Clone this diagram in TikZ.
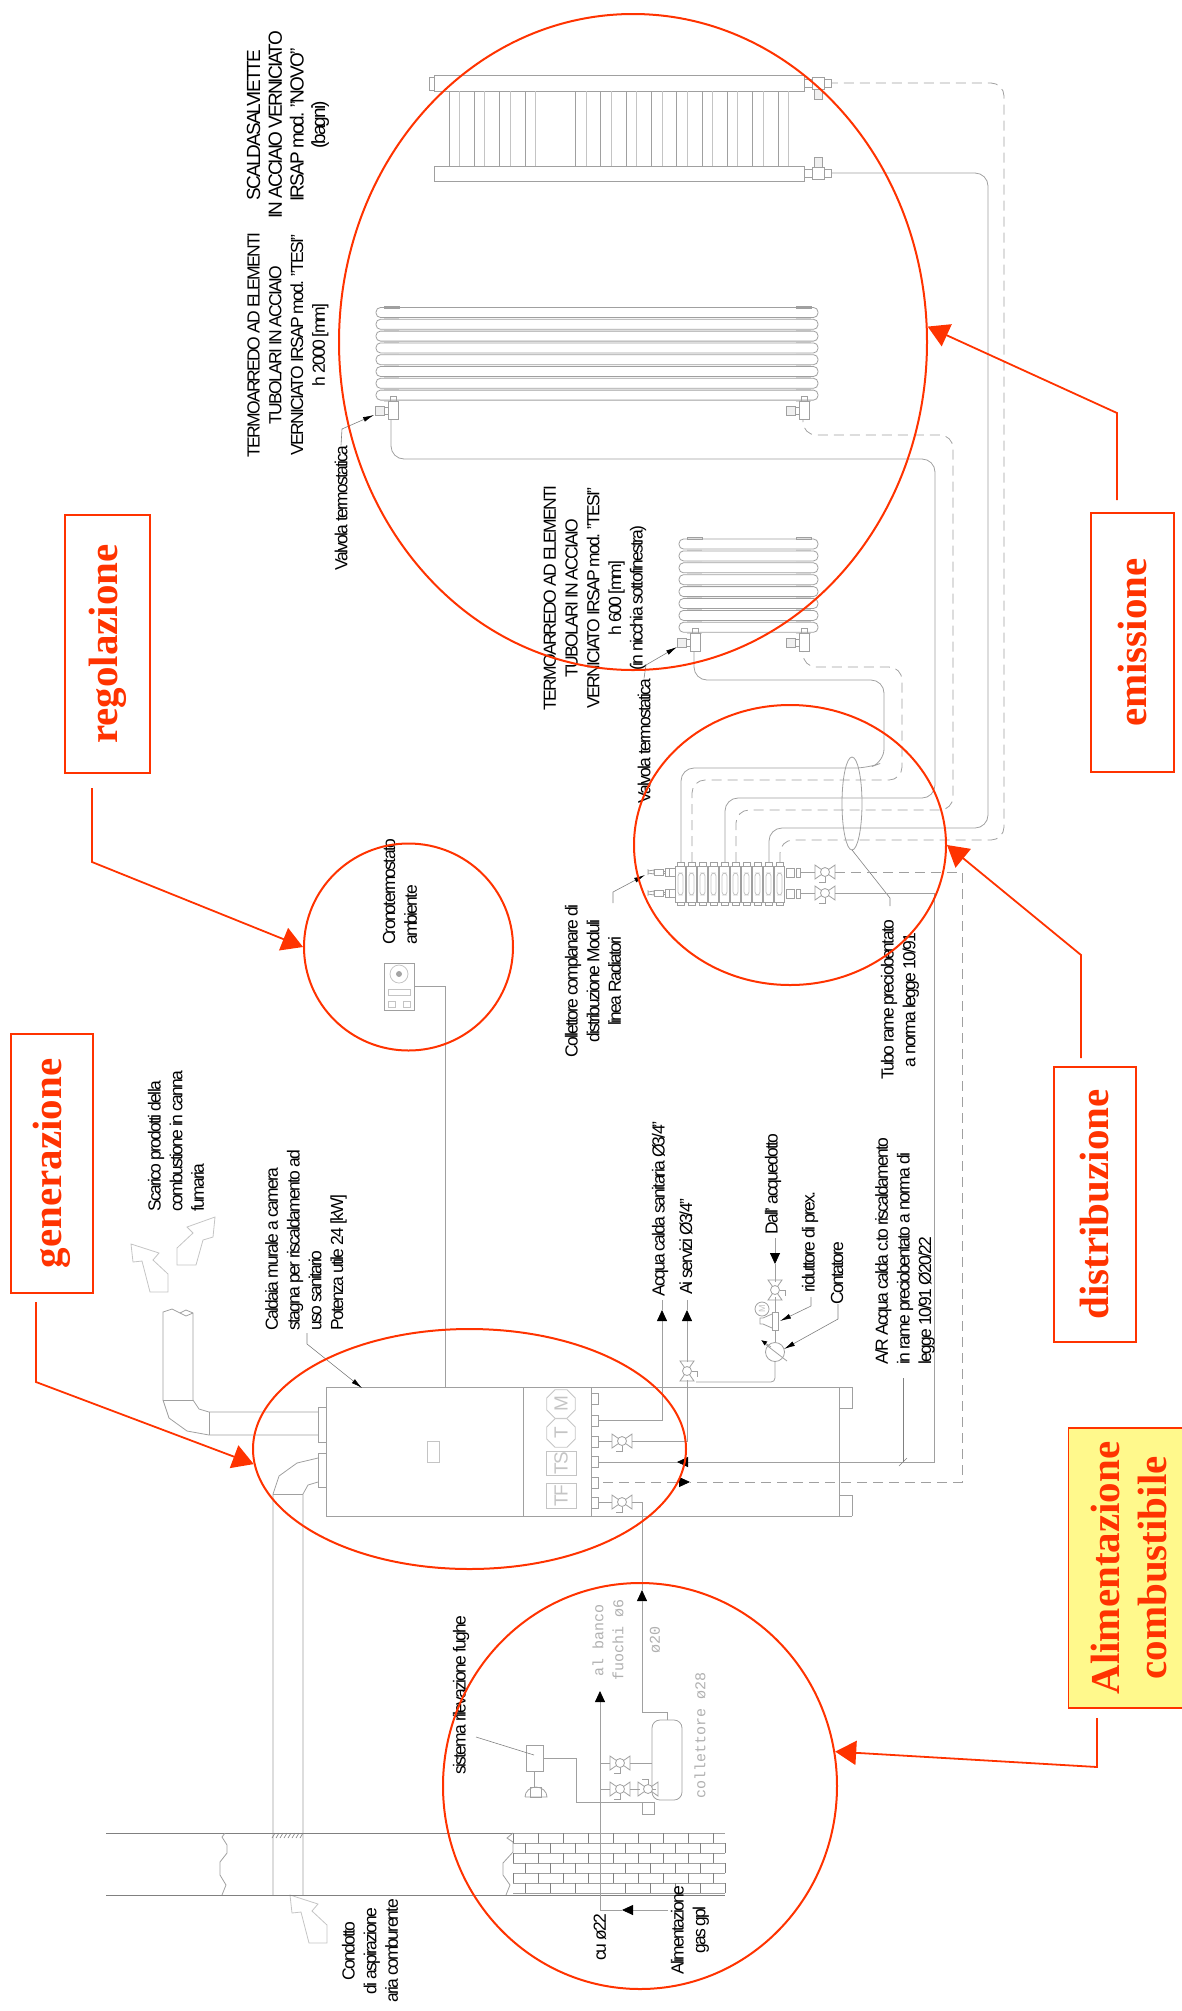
\documentclass[tikz,border=0pt]{standalone}
\usepackage{fontspec}
\setmainfont[LetterSpace=-10]{Liberation Sans}
\newfontfamily\titolofont{Liberation Serif}
\newfontfamily\grigiofont{Liberation Mono}
\usetikzlibrary{arrows.meta,shapes.geometric}
\definecolor{rosso}{HTML}{FF3300}
\definecolor{tubocol}{HTML}{A0A0A0}
\definecolor{chiaro}{HTML}{C4C4C4}
\tikzset{
  tubo/.style={draw=tubocol, line width=.8pt},
  tratto/.style={tubo, dash pattern=on 10pt off 6pt},
  chiaro/.style={draw=chiaro, line width=.8pt},
  guida/.style={draw=gray, line width=.6pt},
  punta/.style={-{Triangle[length=11pt,width=10pt,black]}},
  puntina/.style={-{Latex[length=11pt,width=5pt,black]}},
  etichetta/.style={rotate=90, font=\fontsize{17.5}{21.7}\selectfont, inner sep=0pt, align=center, text=black},
  etichettasx/.style={etichetta, align=left},
  grigia/.style={rotate=90, font=\grigiofont\fontsize{15}{20}\selectfont, inner sep=0pt, align=center, text=chiaro!90!black},
  simbolo/.style={rotate=90, font=\fontsize{19}{19}\selectfont, text=chiaro, chiaro, inner sep=0pt},
  riquadro/.style={rotate=90, draw=rosso, line width=1.8pt, inner sep=0pt, align=center, text=rosso,
    font=\titolofont\bfseries\fontsize{41}{47}\selectfont},
  cerchio/.style={ellipse, draw=rosso, line width=2pt, inner sep=0pt},
  frecciarossa/.style={draw=rosso, line width=1.8pt, -{Triangle[length=21pt,width=24pt,rosso]}},
  pics/farfalla/.style={code={
    \draw[tubo] (-10,-7) -- (-10,7) -- (10,-7) -- (10,7) -- cycle;
    \draw[tubo, fill=white] (0,0) circle (4.5);
    \draw[tubo] (0,4.5) -- (0,10) -- (-6,10);
  }},
  pics/valvolarad/.style={code={
    \draw[tubo, fill=chiaro!25] (-17,5) rectangle (-8,14);
    \draw[tubo] (-8,6) -- (-4,6) (-8,13) -- (-4,13);
    \draw[tubo] (-4,0) rectangle (6,18);
    \draw[tubo] (-2,-5) rectangle (4,0);
  }},
  pics/detentore/.style={code={
    \draw[tubo] (0,-4) rectangle (8,4);
    \draw[tubo] (8,-6) rectangle (20,6);
    \draw[tubo] (20,-4) rectangle (27,4);
    \draw[tubo, fill=chiaro!25] (10,6) rectangle (18,16);
  }},
  pics/attacco/.style={code={
    \draw[tubo] (0,-3) -- (0,3) (0,-1) -- (6,-2) -- (6,2) -- (0,1);
    \draw[tubo] (6,-3) rectangle (15,3);
    \draw[tubo] (15,-1) rectangle (17,1);
    \draw[tubo] (17,-4) rectangle (21,4);
    \draw[tubo] (21,-4) rectangle (27,4);
  }},
}
\begin{document}
\begin{tikzpicture}[x=1pt, y=-1pt]
\useasboundingbox (0,0) rectangle (1182,2011);
% scaldasalviette
\draw[tubo] (434,75) rectangle (804,91);
\draw[tubo] (434,166) rectangle (804,181);
\draw[tubo] (429,77) rectangle (434,90);
\foreach \i in {0,1,2,3,5,6,7,8,9,10,11,12,13} {
  \draw[tubo] ({449+25.3*\i},91) -- ({449+25.3*\i},166);
  \draw[chiaro] ({459.5+25.3*\i},91) -- ({459.5+25.3*\i},166);
}
\pic at (804,83) {detentore};
\pic[yscale=-1] at (804,173) {detentore};
% termoarredo h 2000
\foreach \i in {0,...,7} {
  \draw[tubo, rounded corners=4.5pt] (376,{307.5+11.8*\i}) rectangle (818,{317.5+11.8*\i});
  \fill[chiaro!70] (384,{317.9+11.8*\i}) rectangle (399,{318.9+11.8*\i});
  \fill[chiaro!70] (796,{317.9+11.8*\i}) rectangle (811,{318.9+11.8*\i});
}
\draw[tubo] (384,306) rectangle (399,308) (796,306) rectangle (811,308);
\pic at (392,401) {valvolarad};
\pic at (803,401) {valvolarad};
% termoarredo h 600
\foreach \i in {0,...,7} {
  \draw[tubo, rounded corners=4.5pt] (679,{539+11.9*\i}) rectangle (818,{549+11.9*\i});
  \fill[chiaro!70] (687,{549.4+11.9*\i}) rectangle (702,{550.5+11.9*\i});
  \fill[chiaro!70] (796,{549.4+11.9*\i}) rectangle (811,{550.5+11.9*\i});
}
\draw[tubo] (687,537) rectangle (702,539) (796,537) rectangle (811,539);
\pic at (694,633) {valvolarad};
\pic at (803,633) {valvolarad};
% tubi dal collettore
\draw[tubo, rounded corners=13pt] (681,862) -- (681,768) -- (868,768) -- (884,762) -- (884,680) -- (694,680) -- (694,651);
\draw[tratto, rounded corners=13pt] (692,862) -- (692,780) -- (902,780) -- (902,667) -- (803,667) -- (803,652);
\draw[tubo, rounded corners=13pt] (725,862) -- (725,798) -- (935,798) -- (935,459) -- (391,459) -- (391,419);
\draw[tratto, rounded corners=13pt] (736,862) -- (736,810) -- (953,810) -- (953,435) -- (803,435) -- (803,419);
\draw[tubo, rounded corners=13pt] (769,862) -- (769,828) -- (988,828) -- (988,173) -- (831,173);
\draw[tratto, rounded corners=13pt] (780,862) -- (780,840) -- (1004,840) -- (1004,83) -- (831,83);
% collettore
\foreach \i in {0,...,9} {
  \draw[tubo] ({675.5+11*\i},866) rectangle ({685.5+11*\i},902);
  \draw[tubo] ({677+11*\i},862) rectangle ({684+11*\i},866);
  \draw[tubo] ({677+11*\i},902) rectangle ({684+11*\i},905);
  \draw[chiaro, rounded corners=3pt] ({678+11*\i},873) rectangle ({683+11*\i},895);
}
\pic at (648,872) {attacco};
\pic at (648,893) {attacco};
\draw[tubo] (786,868) rectangle (794,877) (796,868) rectangle (800,877);
\draw[tubo] (786,889) rectangle (794,898) (796,889) rectangle (800,898);
\draw[tubo] (800,872) -- (815,872) (800,893) -- (815,893);
\pic at (825,872) {farfalla};
\pic at (825,893) {farfalla};
\draw[tubo] (852,803.5) ellipse (10 and 46.5);
\draw[guida] (852,850) -- (890,898) -- (890,906);
% linee andata e ritorno
\draw[tratto] (835,872) -- (962,872) -- (962,1482) -- (690,1482);
\draw[tratto] (677,1482) -- (598,1482);
\draw[tubo] (835,893) -- (934,893) -- (934,1462) -- (598,1462);
\draw[tubo, punta] (688,1462) -- (677,1462);
\draw[tubo, punta] (678,1482) -- (690,1482);
\draw[guida] (903,1378) -- (903,1462);
\draw[guida] (899,1466) -- (907,1458);
% caldaia
\draw[tubo] (326,1387) rectangle (591,1516);
\draw[tubo] (523,1387) -- (523,1516);
\draw[chiaro] (427,1441) rectangle (439,1462);
\node[simbolo, draw, regular polygon, regular polygon sides=8, minimum size=31pt] (simboloM) at (561,1404) {M};
\node[simbolo, draw, regular polygon, regular polygon sides=8, minimum size=31pt] (simboloT) at (561,1433) {T};
\node[simbolo, draw, minimum width=24pt, minimum height=30pt] (simboloTS) at (561,1463) {TS};
\node[simbolo, draw, minimum width=25pt, minimum height=30pt] (simboloTF) at (561,1495.5) {TF};
\draw[tubo] (591,1387) -- (852,1387) (591,1516) -- (852,1516);
\draw[tubo] (839,1387) -- (839,1516);
\draw[tubo] (852,1387) -- (852,1408) -- (839,1408);
\draw[tubo] (852,1516) -- (852,1495) -- (839,1495);
\foreach \y in {1393,1415,1436,1456,1477,1497} {
  \draw[tubo] (591,\y) rectangle (598.5,{\y+11.5});
}
% scarico fumi
\draw[tubo] (163,1400) -- (163,1312) -- (172,1309) -- (180,1313) -- (186,1310) -- (193,1313) -- (193,1400);
\draw[tubo] (180,1313) -- (186,1316) -- (193,1313);
\draw[tubo] (163,1400) -- (193,1400);
\draw[tubo] (163,1400) -- (169,1418) -- (187,1431) -- (209,1435) -- (318,1435);
\draw[tubo] (193,1400) -- (199,1409) -- (209,1412) -- (318,1412);
\draw[tubo] (209,1412) -- (209,1435);
\draw[tubo] (318,1407) rectangle (326,1442);
\draw[tubo] (318,1453) rectangle (326,1487);
\draw[tubo] (318,1458) -- (297,1463) -- (279,1476) -- (273,1494) -- (273,1895);
\draw[tubo] (318,1482) -- (308,1485) -- (303,1494) -- (303,1895);
\draw[tubo] (273,1494) -- (303,1494);
\draw[chiaro] (131,1244) -- (159,1253) -- (153,1260) -- (168,1274) -- (168,1292) -- (150,1292) -- (142,1261) -- (133,1262) -- cycle;
\draw[chiaro] (215,1217) -- (187,1227) -- (193,1233) -- (177,1248) -- (177,1265) -- (196,1265) -- (203,1240) -- (213,1237) -- cycle;
\draw[chiaro, shift={(159,651)}] (131,1244) -- (159,1253) -- (153,1260) -- (168,1274) -- (168,1292) -- (150,1292) -- (142,1261) -- (133,1262) -- cycle;
% muro
\draw[guida] (106,1833) -- (725,1833) (106,1895) -- (725,1895);
\draw[tubo] (225,1833) -- (222,1837) -- (227,1845) -- (227,1853) -- (220,1862) -- (220,1875) -- (226,1885) -- (222,1895);
\draw[tubo] (513,1833) -- (507,1838) -- (513,1842) -- (513,1852) -- (503,1863) -- (503,1875) -- (510,1885) -- (506,1895);
\foreach \i in {0,...,6} {
  \draw[tubo] (513,{1833+10*\i}) -- (725,{1833+10*\i});
}
\foreach \x in {0,...,8} {
  \foreach \r in {0,2,4} {
    \draw[guida] ({513+25*\x},{1833+10*\r}) -- ({513+25*\x},{1843+10*\r});
    \draw[guida] ({525.5+25*\x},{1843+10*\r}) -- ({525.5+25*\x},{1853+10*\r});
  }
}
\foreach \x in {275,279,...,303} {
  \draw[guida] (\x,1833) -- ({\x-3},1838);
}
\draw[line width=1pt, gray] (227,1833) -- (273,1833);
% acqua sanitaria
\draw[tubo] (598,1420) -- (662,1420) -- (662,1321);
\draw[tubo, punta] (662,1321) -- (662,1310);
\draw[tubo] (662,1310) -- (662,1300);
\draw[tubo] (598,1441) -- (612,1441);
\draw[tubo] (632,1441) -- (687,1441) -- (687,1380);
\pic at (622,1441) {farfalla};
\pic[rotate=90] at (687,1371) {farfalla};
\draw[tubo] (687,1362) -- (687,1321);
\draw[tubo, punta] (687,1321) -- (687,1310);
\draw[tubo] (687,1310) -- (687,1300);
\draw[tubo, rounded corners=4pt] (696,1382) -- (775,1382) -- (775,1361);
\draw[tubo] (598,1502) -- (612,1502);
\pic at (622,1502) {farfalla};
% contatore e riduttore
\draw[tubo] (775,1352) circle (9.5);
\draw[tubo] (765,1344) -- (787,1361);
\draw[tubo, -{Latex[length=6pt,width=5pt,black]}] (771,1347) -- (761,1340);
\draw[tubo] (775,1342) -- (775,1330);
\draw[tubo] (772,1312) rectangle (778,1330);
\draw[tubo] (772,1314) -- (763,1318) -- (760,1318) -- (760,1324) -- (763,1324) -- (772,1328);
\draw[tubo] (762,1309) circle (7);
\node[font=\fontsize{9}{9}\selectfont, rotate=90, text=chiaro, inner sep=0pt] (simbolomano) at (762,1309) {M};
\draw[tubo] (775,1312) -- (775,1297);
\pic[rotate=90] at (775,1290) {farfalla};
\draw[tubo] (775,1282) -- (775,1264);
\draw[tubo, punta] (775,1253) -- (775,1264);
\draw[tubo] (775,1253) -- (775,1238);
% cronotermostato
\draw[tubo] (384,963) rectangle (414,1010);
\draw[chiaro] (399,974) circle (9);
\draw[tubo, fill=gray!70] (399,974) circle (2.5);
\draw[chiaro] (388,989) rectangle (410,995);
\draw[chiaro] (388,1001) rectangle (395,1007);
\draw[chiaro] (403,1001) rectangle (410,1007);
\draw[tubo] (414,986) -- (445,986) -- (445,1387);
% alimentazione gas
\draw[tubo] (526,1745) rectangle (543,1771);
\draw[guida] (476,1737) -- (534,1755);
\draw[tubo] (534,1771) -- (534,1787);
\draw[tubo] (530,1787) rectangle (541,1797);
\draw[tubo] (525,1797) -- (547,1797) arc (0:180:11 and -10);
\draw[tubo] (543,1758) -- (576,1758) -- (576,1802) -- (642,1802);
\draw[tubo] (642,1802) rectangle (654,1814);
\draw[tubo, rounded corners=8pt] (652,1720) rectangle (682,1800);
\draw[tubo] (632,1502) -- (642,1502) -- (642,1580);
\draw[tubo, punta] (642,1601) -- (642,1590);
\draw[tubo] (642,1590) -- (642,1580);
\draw[tubo] (642,1601) -- (642,1712) -- (667,1712) -- (667,1720);
\draw[tubo] (668,1910) -- (632,1910);
\draw[tubo, punta] (632,1910) -- (622,1910);
\draw[tubo] (622,1910) -- (600,1910) -- (600,1702);
\draw[tubo, punta] (600,1702) -- (600,1691);
\draw[tubo] (600,1763) -- (610,1763) (630,1763) -- (652,1763);
\draw[tubo] (600,1789) -- (610,1789) (630,1789) -- (640,1789) (656,1789) -- (652,1789);
\pic at (620,1763) {farfalla};
\pic at (620,1789) {farfalla};
\pic[yscale=-1] at (648,1789) {farfalla};
% testi
\node[etichetta, font=\fontsize{19}{21.7}\selectfont] (scaldasalviette) at (288,125) {SCALDASALVIETTE\\IN ACCIAIO VERNICIATO\\IRSAP mod. "NOVO"\\(bagni)};
\node[etichetta] (tesi2000) at (288,345) {TERMOARREDO AD ELEMENTI\\TUBOLARI IN ACCIAIO\\VERNICIATO IRSAP mod. "TESI"\\h 2000 [mm]};
\node[etichetta] (valvola1) at (341,508) {Valvola termostatica};
\draw[guida, puntina] (valvola1.east) -- (342,429) -- (374,415);
\node[etichetta] (tesi600) at (595,598) {TERMOARREDO AD ELEMENTI\\TUBOLARI IN ACCIAIO\\VERNICIATO IRSAP mod. "TESI"\\h 600 [mm]\\(in nicchia sottofinestra)};
\node[etichetta] (valvola2) at (644,741) {Valvola termostatica};
\draw[guida, puntina] (valvola2.east) -- (646,665) -- (677,647);
\node[etichettasx] (crono) at (400,892) {Cronotermostato\\ambiente};
\node[etichetta] (collettore) at (593,981) {Collettore complanare di\\distribuzione Moduli\\linea Radiatori};
\draw[guida, puntina] (613,903) -- (613,892) -- (645,875);
\node[etichetta] (tuborame) at (900,1000) {Tubo rame preciobentato\\a norma legge 10/91};
\node[etichettasx] (scarico) at (176,1141) {Scarico prodotti della\\combustione in canna\\fumaria};
\node[etichettasx] (caldaia) at (306,1240) {Caldaia murale a camera\\stagna per riscaldamento ad\\uso sanitario\\Potenza utile 24 [kW]};
\draw[guida, puntina] (307,1333) -- (307,1344) -- (362,1388);
\node[etichetta] (sanitaria) at (660,1209) {Acqua calda sanitaria Ø3/4"};
\node[etichetta] (servizi) at (686,1247) {Ai servizi Ø3/4"};
\node[etichetta] (acquedotto) at (773,1184) {Dall' acquedotto};
\node[etichetta] (riduttore) at (810,1242) {riduttore di prex.};
\draw[guida, puntina] (811,1297) -- (811,1306) -- (780,1321);
\node[etichetta] (contatore) at (837,1273) {Contatore};
\draw[guida, puntina] (838,1304) -- (838,1319) -- (784,1349);
\node[etichettasx] (andritorno) at (905,1251) {A/R Acqua calda c.to riscaldamento\\in rame preciobentato a norma di\\legge 10/91 Ø20/22};
\node[etichetta] (condotto) at (370,1951) {Condotto\\di aspirazione\\aria comburente};
\node[etichetta] (sistema) at (461,1695) {sistema rilevazione fughe};
\node[etichetta] (cu) at (600,1937) {cu ø22};
\node[etichetta] (gas) at (690,1930) {Alimentazione\\gas gpl};
\node[grigia] (banco) at (608,1640) {al banco\\fuochi ø6};
\node[grigia] (venti) at (655,1640) {ø20};
\node[grigia] (collettore28) at (700,1735) {collettore ø28};
% riquadri e cerchi
\node[cerchio, minimum width=588pt, minimum height=656pt] (cerchioemi) at (633,342) {};
\node[cerchio, minimum width=312pt, minimum height=280pt] (cerchiodis) at (790,845) {};
\node[cerchio, minimum width=209pt, minimum height=207pt] (cerchioreg) at (408.5,947) {};
\node[cerchio, minimum width=433pt, minimum height=240pt] (cerchiogen) at (469.5,1449) {};
\node[cerchio, minimum width=394pt, minimum height=406pt] (cerchioali) at (640,1786) {};
\node[riquadro, minimum width=258pt, minimum height=85pt] (regolazione) at (107.5,644) {regolazione};
\node[riquadro, minimum width=259pt, minimum height=82pt] (generazione) at (52,1163.5) {generazione};
\node[riquadro, minimum width=259pt, minimum height=83pt] (emissione) at (1132.5,642.5) {emissione};
\node[riquadro, minimum width=275pt, minimum height=82pt] (distribuzione) at (1095,1204.5) {distribuzione};
\node[riquadro, fill=yellow!45, minimum width=280pt, minimum height=121pt] (alimentazione) at (1129,1568) {Alimentazione\\combustibile};
\coordinate (partenzareg) at (92,788);
\coordinate (partenzagen) at (36,1302);
\coordinate (partenzaemi) at (1117,500);
\coordinate (partenzadis) at (1081,1058);
\coordinate (partenzaali) at (1097,1718);
\draw[frecciarossa] (partenzareg) -- (92,862) -- (cerchioreg.west);
\draw[frecciarossa] (partenzagen) -- (36,1382) -- (cerchiogen.184);
\draw[frecciarossa] (partenzaemi) -- (1117,413) -- (cerchioemi.3);
\draw[frecciarossa] (partenzadis) -- (1081,955) -- (cerchiodis.east);
\draw[frecciarossa] (partenzaali) -- (1097,1767) -- (cerchioali.10);
\end{tikzpicture}
\end{document}
